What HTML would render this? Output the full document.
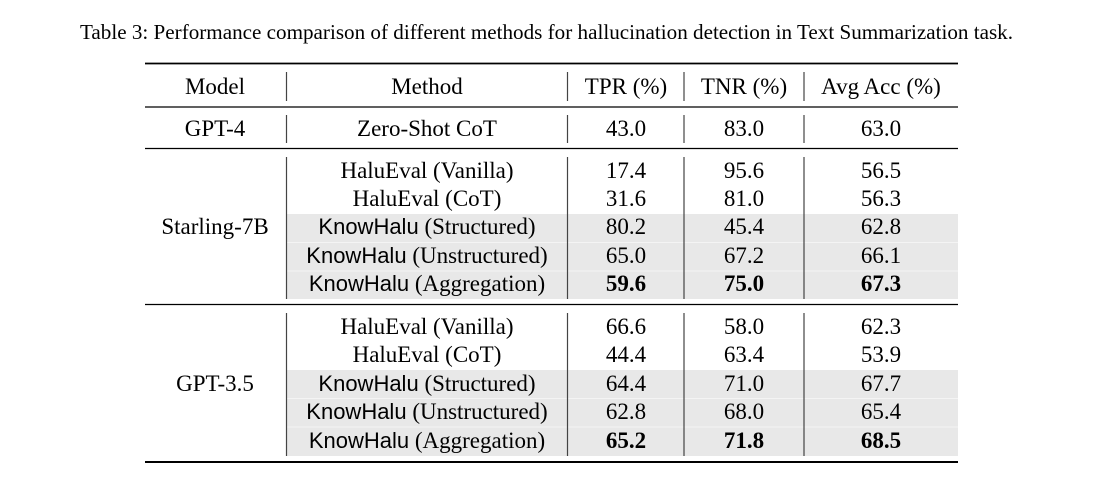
<!DOCTYPE html>
<html><head><meta charset="utf-8"><style>
body{margin:0;background:#fff;}
svg{display:block;}
text{font-family:"Liberation Serif",serif;font-size:23px;fill:#000;}
.s{font-family:"Liberation Sans",sans-serif;font-size:22px;}
.b{font-weight:bold;}
</style></head><body>
<svg width="1117" height="487" viewBox="0 0 1117 487">
<text x="80" y="39" textLength="933" lengthAdjust="spacingAndGlyphs" style="font-size:21px">Table 3: Performance comparison of different methods for hallucination detection in Text Summarization task.</text>
<g fill="#e8e8e8">
<rect x="287" y="214" width="671" height="85"/>
<rect x="287" y="370" width="671" height="86"/>
</g>
<g stroke="#f4f4f4" stroke-width="1">
<line x1="287" y1="242.5" x2="958" y2="242.5"/><line x1="287" y1="271" x2="958" y2="271"/>
<line x1="287" y1="398.5" x2="958" y2="398.5"/><line x1="287" y1="427" x2="958" y2="427"/>
</g>
<g stroke="#000">
<line x1="145" y1="63.5" x2="958" y2="63.5" stroke-width="1.8"/>
<line x1="145" y1="107" x2="958" y2="107" stroke-width="1.2"/>
<line x1="145" y1="148.5" x2="958" y2="148.5" stroke-width="1.2"/>
<line x1="145" y1="304.5" x2="958" y2="304.5" stroke-width="1.2"/>
<line x1="145" y1="462" x2="958" y2="462" stroke-width="2"/>
</g>
<g stroke="#444" stroke-width="1.2">
<line x1="286.5" y1="72" x2="286.5" y2="101"/><line x1="567.5" y1="72" x2="567.5" y2="101"/><line x1="684" y1="72" x2="684" y2="101"/><line x1="804" y1="72" x2="804" y2="101"/>
<line x1="286.5" y1="115" x2="286.5" y2="143"/><line x1="567.5" y1="115" x2="567.5" y2="143"/><line x1="684" y1="115" x2="684" y2="143"/><line x1="804" y1="115" x2="804" y2="143"/>
<line x1="286.5" y1="157" x2="286.5" y2="299"/><line x1="567.5" y1="157" x2="567.5" y2="299"/><line x1="684" y1="157" x2="684" y2="299"/><line x1="804" y1="157" x2="804" y2="299"/>
<line x1="286.5" y1="313" x2="286.5" y2="456"/><line x1="567.5" y1="313" x2="567.5" y2="456"/><line x1="684" y1="313" x2="684" y2="456"/><line x1="804" y1="313" x2="804" y2="456"/>
</g>
<g text-anchor="middle">
<text x="215" y="94">Model</text><text x="427" y="94">Method</text><text x="626" y="94">TPR (%)</text><text x="744" y="94">TNR (%)</text><text x="881" y="94">Avg Acc (%)</text>
</g>
<g text-anchor="middle">
<text x="215" y="136">GPT-4</text><text x="427" y="136">Zero-Shot CoT</text><text x="626" y="136">43.0</text><text x="744" y="136">83.0</text><text x="881" y="136">63.0</text>
</g>
<g text-anchor="middle">
<text x="215" y="234">Starling-7B</text>
<text x="427" y="178">HaluEval (Vanilla)</text><text x="626" y="178">17.4</text><text x="744" y="178">95.6</text><text x="881" y="178">56.5</text>
<text x="427" y="206">HaluEval (CoT)</text><text x="626" y="206">31.6</text><text x="744" y="206">81.0</text><text x="881" y="206">56.3</text>
<text x="427" y="234"><tspan class="s">KnowHalu</tspan> (Structured)</text><text x="626" y="234">80.2</text><text x="744" y="234">45.4</text><text x="881" y="234">62.8</text>
<text x="427" y="263"><tspan class="s">KnowHalu</tspan> (Unstructured)</text><text x="626" y="263">65.0</text><text x="744" y="263">67.2</text><text x="881" y="263">66.1</text>
<text x="427" y="291"><tspan class="s">KnowHalu</tspan> (Aggregation)</text><text x="626" y="291" class="b">59.6</text><text x="744" y="291" class="b">75.0</text><text x="881" y="291" class="b">67.3</text>
</g>
<g text-anchor="middle">
<text x="215" y="391">GPT-3.5</text>
<text x="427" y="334">HaluEval (Vanilla)</text><text x="626" y="334">66.6</text><text x="744" y="334">58.0</text><text x="881" y="334">62.3</text>
<text x="427" y="362">HaluEval (CoT)</text><text x="626" y="362">44.4</text><text x="744" y="362">63.4</text><text x="881" y="362">53.9</text>
<text x="427" y="391"><tspan class="s">KnowHalu</tspan> (Structured)</text><text x="626" y="391">64.4</text><text x="744" y="391">71.0</text><text x="881" y="391">67.7</text>
<text x="427" y="419"><tspan class="s">KnowHalu</tspan> (Unstructured)</text><text x="626" y="419">62.8</text><text x="744" y="419">68.0</text><text x="881" y="419">65.4</text>
<text x="427" y="448"><tspan class="s">KnowHalu</tspan> (Aggregation)</text><text x="626" y="448" class="b">65.2</text><text x="744" y="448" class="b">71.8</text><text x="881" y="448" class="b">68.5</text>
</g>
</svg>
</body></html>
